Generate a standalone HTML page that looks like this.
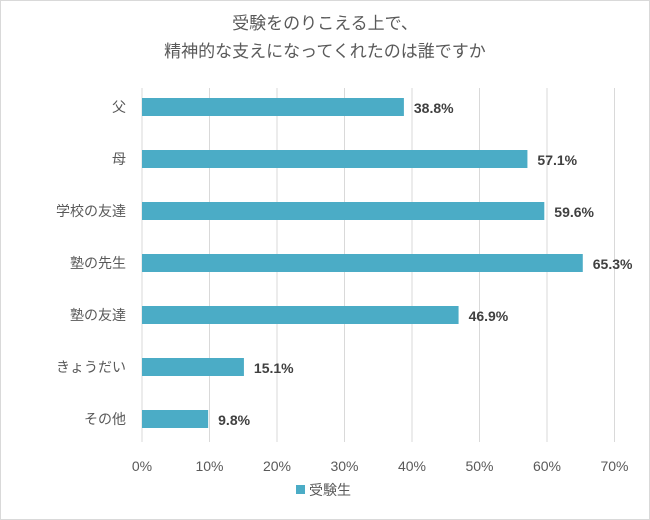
<!DOCTYPE html>
<html><head><meta charset="utf-8"><style>
body{margin:0;background:#fff}
svg{display:block;font-family:"Liberation Sans","Noto Sans CJK JP",sans-serif}
</style></head><body>
<svg id="chart" width="650" height="520">
<rect x="0.5" y="0.5" width="649" height="519" fill="#fff" stroke="#d9d9d9"/>
<text x="325" y="29" text-anchor="middle" font-size="17" fill="#595959">受験をのりこえる上で、</text>
<text x="325" y="57" text-anchor="middle" font-size="17" fill="#595959">精神的な支えになってくれたのは誰ですか</text>
<g id="grid"></g><g id="bars"></g><g id="labels"></g>
<rect x="296" y="485" width="9" height="9" fill="#4BACC6"/>
<text x="309" y="495" font-size="14" fill="#595959">受験生</text>
</svg>
<script>
const categories=["父","母","学校の友達","塾の先生","塾の友達","きょうだい","その他"];
const values=[38.8,57.1,59.6,65.3,46.9,15.1,9.8];
const ticks=[0,10,20,30,40,50,60,70];
const x0=142,pxPer=6.75,yTop=88,band=52,barH=18;
const xs=v=>x0+v*pxPer;
const ys=i=>yTop+band*i+band/2-7;
const NS="http://www.w3.org/2000/svg";
function mk(t,a,p){const e=document.createElementNS(NS,t);for(const k in a)e.setAttribute(k,a[k]);p.appendChild(e);return e;}
const g=document.getElementById('grid'),b=document.getElementById('bars'),l=document.getElementById('labels');
ticks.forEach(t=>{
 const ln=mk('line',{x1:xs(t),x2:xs(t),y1:88,y2:442,stroke:'#d9d9d9','stroke-width':1},g);
 
 
 const tx=mk('text',{x:xs(t),y:471,'text-anchor':'middle','font-size':14,fill:'#595959'},l);
 tx.textContent=t+'%';
 
 
});
categories.forEach((c,i)=>{
 const cy=ys(i);
 const r=mk('rect',{x:x0,y:cy-barH/2,width:xs(values[i])-x0,height:barH,fill:'#4BACC6'},b);
 
 
 const ct=mk('text',{x:126,y:cy+5,'text-anchor':'end','font-size':14,fill:'#595959'},l);
 ct.textContent=c;
 
 
 const vt=mk('text',{x:xs(values[i])+10,y:cy+6,'font-size':14,'font-weight':'bold',fill:'#404040'},l);
 vt.textContent=values[i].toFixed(1)+'%';
 
 
});
</script>
</body></html>
